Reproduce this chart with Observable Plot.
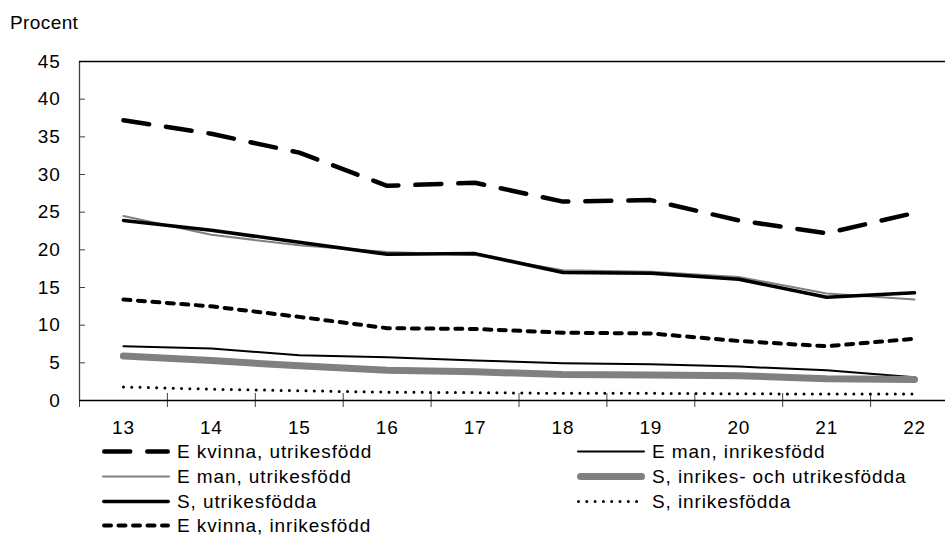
<!DOCTYPE html>
<html><head><meta charset="utf-8">
<script src="https://cdn.jsdelivr.net/npm/d3@7"></script>
<script src="https://cdn.jsdelivr.net/npm/@observablehq/plot@0.6"></script>
<style>
html,body{margin:0;padding:0;background:#fff;}
body{width:945px;height:537px;position:relative;overflow:hidden;font-family:"Liberation Sans",Arial,sans-serif;color:#000;}
#title{position:absolute;left:10px;top:0;height:40px;padding-top:13px;box-sizing:border-box;font-size:19px;line-height:19px;letter-spacing:0.4px;}
#chart{position:absolute;left:0;top:40px;}
#chart svg text{letter-spacing:0.8px;}
.item{position:absolute;display:flex;align-items:center;height:25px;font-size:19px;line-height:25px;letter-spacing:0.9px;white-space:nowrap;}
.item svg{overflow:visible;margin-right:7px;flex:none;}
</style></head><body>
<div id="title">Procent</div>
<div id="chart"></div>
<div id="legend"></div>
<script>
// ---- data ----
const years = [13, 14, 15, 16, 17, 18, 19, 20, 21, 22];
const yTicks = [0, 5, 10, 15, 20, 25, 30, 35, 40, 45];
const seriesNames = [
  "E kvinna, utrikesfödd",
  "E man, inrikesfödd",
  "E man, utrikesfödd",
  "S, inrikes- och utrikesfödda",
  "S, utrikesfödda",
  "S, inrikesfödda",
  "E kvinna, inrikesfödd"
];
const eKvinnaUtrikes = [37.2, 35.4, 32.9, 28.5, 28.9, 26.4, 26.6, 23.9, 22.2, 24.9];
const eManInrikes    = [7.2, 6.9, 6.0, 5.75, 5.3, 4.95, 4.8, 4.5, 4.0, 3.1];
const eManUtrikes    = [24.5, 22.0, 20.6, 19.7, 19.3, 17.3, 17.1, 16.4, 14.2, 13.4];
const sInrUtr        = [5.9, 5.3, 4.6, 4.0, 3.8, 3.45, 3.4, 3.3, 2.9, 2.8];
const sUtrikes       = [23.9, 22.6, 21.0, 19.4, 19.5, 17.0, 16.9, 16.1, 13.7, 14.3];
const sInrikes       = [1.8, 1.5, 1.3, 1.1, 1.05, 0.95, 0.95, 0.9, 0.85, 0.85];
const eKvinnaInrikes = [13.4, 12.5, 11.1, 9.6, 9.5, 9.0, 8.9, 7.9, 7.2, 8.2];

const seriesValues = [eKvinnaUtrikes, eManInrikes, eManUtrikes, sInrUtr, sUtrikes, sInrikes, eKvinnaInrikes];

// ---- styles ----
const styles = [
  {stroke: "#000", strokeWidth: 4.5, dash: "26,17"},
  {stroke: "#000", strokeWidth: 2, dash: null},
  {stroke: "#808080", strokeWidth: 2, dash: null},
  {stroke: "#808080", strokeWidth: 7, dash: null},
  {stroke: "#000", strokeWidth: 3.5, dash: null},
  {stroke: "#000", strokeWidth: 3, dash: "0,8.3"},
  {stroke: "#000", strokeWidth: 4, dash: "7,7.5"}
];

const bounds = years.map(y => y - 0.5);

const lineMarks = seriesNames.map((name, k) => {
  const data = years.map((y, i) => ({year: y, value: seriesValues[k][i], series: name}));
  const s = styles[k];
  return Plot.line(data, {
    x: "year", y: "value",
    stroke: s.stroke, strokeWidth: s.strokeWidth,
    strokeDasharray: s.dash || undefined,
    strokeLinecap: "round", strokeLinejoin: "round"
  });
});

const chart = Plot.plot({
  width: 945, height: 398,
  marginTop: 21, marginBottom: 38, marginLeft: 79, marginRight: 0,
  style: {fontFamily: "'Liberation Sans', Arial, sans-serif", fontSize: "19px", color: "#000", background: "#fff", overflow: "visible"},
  x: {type: "linear", domain: [years[0] - 0.5, years[years.length - 1] + 0.5], range: [79, 958],
      ticks: years, tickSize: 0, tickPadding: 20, tickFormat: d => String(d), label: null},
  y: {domain: [0, 45], ticks: yTicks, tickSize: 0, tickPadding: 19, label: null},
  marks: [
    Plot.ruleY(yTicks, {x1: years[0] - 0.5, x2: years[0] - 0.5, insetRight: -6, stroke: "#404040", strokeWidth: 1}),
    Plot.ruleX(bounds, {y1: 0, y2: 0, insetTop: -7, insetBottom: -7, stroke: "#404040", strokeWidth: 1}),
    Plot.ruleX([years[0] - 0.5], {stroke: "#404040", strokeWidth: 1.3}),
    Plot.ruleY([0, 45], {stroke: "#000", strokeWidth: 1.3}),
    ...lineMarks
  ]
});
document.getElementById("chart").appendChild(chart);

// ---- legend ----
const legend = d3.select("#legend");
const rowCenters0 = 451.5, rowStep = 24.8;
seriesNames.forEach((name, k) => {
  const col = k % 2, row = Math.floor(k / 2);
  const s = styles[k];
  const item = legend.append("div").attr("class", "item")
    .style("left", (col ? 577 : 102) + "px")
    .style("top", (rowCenters0 + row * rowStep - 12.5) + "px");
  const svg = item.append("svg").attr("width", 68).attr("height", 25);
  const cap = s.strokeWidth / 2;
  svg.append("line")
    .attr("x1", cap).attr("x2", 68 - cap).attr("y1", 12.5).attr("y2", 12.5)
    .attr("stroke", s.stroke).attr("stroke-width", s.strokeWidth)
    .attr("stroke-linecap", "round")
    .attr("stroke-dasharray", s.dash);
  item.append("span").text(name);
});
</script>
</body></html>
